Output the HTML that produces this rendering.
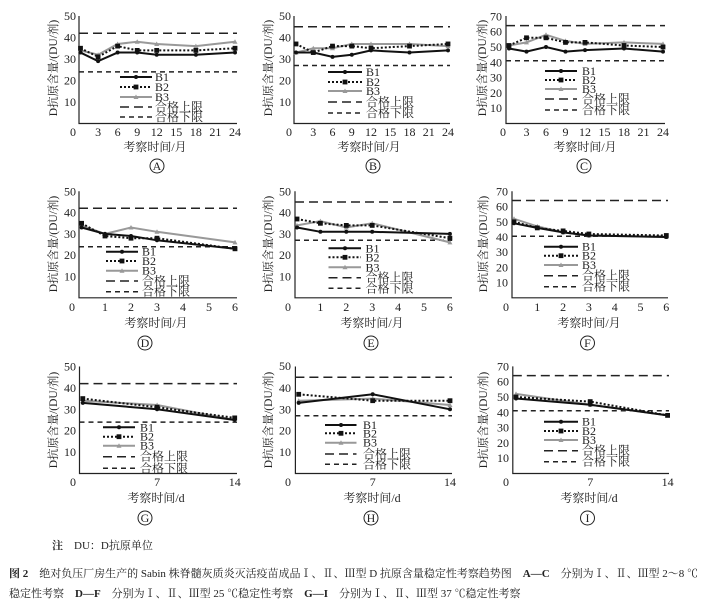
<!DOCTYPE html>
<html><head><meta charset="utf-8"><style>
body{margin:0;background:#fff}
svg{display:block}
text{font-family:"Liberation Serif","Noto Serif CJK SC",serif;fill:#222}
.t{font-size:12px}
.yl{font-size:11.5px;text-anchor:middle}
.m{text-anchor:middle}
.ax{stroke:#222;stroke-width:1.2;fill:none}
.b1{stroke:#111;stroke-width:2;fill:none;marker-start:url(#mc);marker-mid:url(#mc);marker-end:url(#mc)}
.b2{stroke:#111;stroke-width:2;stroke-dasharray:2 2;fill:none;marker-start:url(#ms);marker-mid:url(#ms);marker-end:url(#ms)}
.b3{stroke:#999;stroke-width:2;fill:none;marker-start:url(#mt);marker-mid:url(#mt);marker-end:url(#mt)}
polyline.lg{marker-start:none;marker-end:none}
.up{stroke:#222;stroke-width:1.5;stroke-dasharray:9 5;fill:none}
.lo{stroke:#222;stroke-width:1.5;stroke-dasharray:5 4;fill:none}
.cap{font-size:11px}
</style></head><body>
<svg width="704" height="607" viewBox="0 0 704 607" xmlns="http://www.w3.org/2000/svg">
<defs>
<marker id="mc" markerUnits="userSpaceOnUse" markerWidth="6" markerHeight="6" refX="3" refY="3"><circle cx="3" cy="3" r="2" fill="#111"/></marker>
<marker id="ms" markerUnits="userSpaceOnUse" markerWidth="6" markerHeight="6" refX="3" refY="3"><rect x="0.6" y="0.6" width="4.8" height="4.8" fill="#111"/></marker>
<marker id="mt" markerUnits="userSpaceOnUse" markerWidth="7" markerHeight="7" refX="3.5" refY="3.5"><path d="M3.5 1L6 5.5H1Z" fill="#999"/></marker>
</defs>

<!-- Panel A -->
<g>
<path class="ax" d="M79 16V123.5H237"/>
<g class="t" text-anchor="end"><text x="76" y="106">10</text><text x="76" y="84.5">20</text><text x="76" y="63">30</text><text x="76" y="41.5">40</text><text x="76" y="20">50</text></g>
<g class="t m"><text x="73" y="136">0</text><text x="98.1" y="136">3</text><text x="117.6" y="136">6</text><text x="137.2" y="136">9</text><text x="156.7" y="136">12</text><text x="176.3" y="136">15</text><text x="195.9" y="136">18</text><text x="215.4" y="136">21</text><text x="235" y="136">24</text></g>
<text class="yl" transform="translate(57,68) rotate(-90)">D抗原含量/(DU/剂)</text>
<text class="t m" x="155" y="151">考察时间/月</text>
<circle cx="157" cy="166" r="7" fill="none" stroke="#222"/><text class="t m" x="157" y="170">A</text>
<line class="up" x1="79" y1="33.2" x2="237" y2="33.2"/><line class="lo" x1="79" y1="71.9" x2="237" y2="71.9"/>
<polyline class="b3" points="80.5,50.4 98.1,54.7 117.6,43.95 137.2,41.8 156.7,43.95 195.9,46.1 235,41.8"/>
<polyline class="b2" points="80.5,48.25 98.1,56.85 117.6,46.1 137.2,50.4 156.7,50.4 195.9,50.4 235,48.25"/>
<polyline class="b1" points="80.5,52.55 98.1,61.15 117.6,52.55 137.2,52.55 156.7,54.7 195.9,54.7 235,52.55"/>
<polyline class="b1 lg" points="120,77 136,77 152,77"/><polyline class="b2 lg" points="120,87 136,87 152,87"/><polyline class="b3 lg" points="120,97 136,97 152,97"/>
<line class="up" x1="120" y1="107" x2="152" y2="107"/><line class="lo" x1="120" y1="117" x2="152" y2="117"/>
<g class="t"><text x="155" y="81">B1</text><text x="155" y="91">B2</text><text x="155" y="101">B3</text><text x="155" y="111">合格上限</text><text x="155" y="121">合格下限</text></g>
</g>

<!-- Panel B -->
<g>
<path class="ax" d="M294 16V123.5H450"/>
<g class="t" text-anchor="end"><text x="291" y="106">10</text><text x="291" y="84.5">20</text><text x="291" y="63">30</text><text x="291" y="41.5">40</text><text x="291" y="20">50</text></g>
<g class="t m"><text x="289" y="136">0</text><text x="313.3" y="136">3</text><text x="332.5" y="136">6</text><text x="351.8" y="136">9</text><text x="371" y="136">12</text><text x="390.3" y="136">15</text><text x="409.5" y="136">18</text><text x="428.8" y="136">21</text><text x="448" y="136">24</text></g>
<text class="yl" transform="translate(272,68) rotate(-90)">D抗原含量/(DU/剂)</text>
<text class="t m" x="369" y="151">考察时间/月</text>
<circle cx="373" cy="166" r="7" fill="none" stroke="#222"/><text class="t m" x="373" y="170">B</text>
<line class="up" x1="294" y1="26.75" x2="450" y2="26.75"/><line class="lo" x1="294" y1="65.45" x2="450" y2="65.45"/>
<polyline class="b3" points="296,52.55 313.3,48.25 332.5,48.25 351.8,43.95 371,43.95 409.5,43.95 448,46.1"/>
<polyline class="b2" points="296,43.95 313.3,52.55 332.5,46.1 351.8,46.1 371,48.25 409.5,46.1 448,43.95"/>
<polyline class="b1" points="296,52.55 313.3,52.55 332.5,56.85 351.8,54.7 371,50.4 409.5,52.55 448,50.4"/>
<polyline class="b1 lg" points="328,72 345,72 362,72"/><polyline class="b2 lg" points="328,82 345,82 362,82"/><polyline class="b3 lg" points="328,91 345,91 362,91"/>
<line class="up" x1="328" y1="102" x2="362" y2="102"/><line class="lo" x1="328" y1="113" x2="362" y2="113"/>
<g class="t"><text x="366" y="76">B1</text><text x="366" y="86">B2</text><text x="366" y="95">B3</text><text x="366" y="106">合格上限</text><text x="366" y="117">合格下限</text></g>
</g>

<!-- Panel C -->
<g>
<path class="ax" d="M506 16V123.5H665"/>
<g class="t" text-anchor="end"><text x="502" y="112">10</text><text x="502" y="97">20</text><text x="502" y="81.6">30</text><text x="502" y="66.3">40</text><text x="502" y="51">50</text><text x="502" y="35.7">60</text><text x="502" y="20.4">70</text></g>
<g class="t m"><text x="503" y="136">0</text><text x="526.5" y="136">3</text><text x="546" y="136">6</text><text x="565.5" y="136">9</text><text x="585" y="136">12</text><text x="604.5" y="136">15</text><text x="624" y="136">18</text><text x="643.5" y="136">21</text><text x="663" y="136">24</text></g>
<text class="yl" transform="translate(486,68) rotate(-90)">D抗原含量/(DU/剂)</text>
<text class="t m" x="585" y="151">考察时间/月</text>
<circle cx="584" cy="166" r="7" fill="none" stroke="#222"/><text class="t m" x="584" y="170">C</text>
<line class="up" x1="506" y1="25.6" x2="665" y2="25.6"/><line class="lo" x1="506" y1="60.8" x2="665" y2="60.8"/>
<polyline class="b3" points="509,45.5 526.5,42.4 546,34.8 565.5,40.9 585,43.9 624,42.4 663,43.9"/>
<polyline class="b2" points="509,45.5 526.5,37.8 546,37.8 565.5,42.4 585,42.4 624,45.5 663,47"/>
<polyline class="b1" points="509,48.5 526.5,51.6 546,47 565.5,51.6 585,50.1 624,48.5 663,51.6"/>
<polyline class="b1 lg" points="545,71 561,71 577,71"/><polyline class="b2 lg" points="545,80 561,80 577,80"/><polyline class="b3 lg" points="545,89 561,89 577,89"/>
<line class="up" x1="545" y1="99" x2="577" y2="99"/><line class="lo" x1="545" y1="110" x2="577" y2="110"/>
<g class="t"><text x="582" y="75">B1</text><text x="582" y="84">B2</text><text x="582" y="93">B3</text><text x="582" y="103">合格上限</text><text x="582" y="114">合格下限</text></g>
</g>

<!-- Panel D -->
<g>
<path class="ax" d="M79 191.3V297.8H237"/>
<g class="t" text-anchor="end"><text x="76" y="280.5">10</text><text x="76" y="259.2">20</text><text x="76" y="237.9">30</text><text x="76" y="216.6">40</text><text x="76" y="195.3">50</text></g>
<g class="t m"><text x="72" y="311">0</text><text x="105" y="311">1</text><text x="131" y="311">2</text><text x="157" y="311">3</text><text x="183" y="311">4</text><text x="209" y="311">5</text><text x="235" y="311">6</text></g>
<text class="yl" transform="translate(57,244) rotate(-90)">D抗原含量/(DU/剂)</text>
<text class="t m" x="156" y="327">考察时间/月</text>
<circle cx="145" cy="343" r="7" fill="none" stroke="#222"/><text class="t m" x="145" y="347">D</text>
<line class="up" x1="79" y1="208.3" x2="237" y2="208.3"/><line class="lo" x1="79" y1="246.7" x2="237" y2="246.7"/>
<polyline class="b3" points="81.6,225.4 105,233.9 131,227.5 157,231.8 235,242.4"/>
<polyline class="b2" points="81.6,223.3 105,236 131,238.2 157,238.2 235,248.8"/>
<polyline class="b1" points="81.6,227.5 105,233.9 131,236 157,240.3 235,248.8"/>
<polyline class="b1 lg" points="106,251.7 122,251.7 138,251.7"/><polyline class="b2 lg" points="106,261 122,261 138,261"/><polyline class="b3 lg" points="106,270.7 122,270.7 138,270.7"/>
<line class="up" x1="106" y1="281" x2="138" y2="281"/><line class="lo" x1="106" y1="291.7" x2="138" y2="291.7"/>
<g class="t"><text x="142" y="255.7">B1</text><text x="142" y="265">B2</text><text x="142" y="274.7">B3</text><text x="142" y="285">合格上限</text><text x="142" y="295.7">合格下限</text></g>
</g>

<!-- Panel E -->
<g>
<path class="ax" d="M295 191.3V297.8H452"/>
<g class="t" text-anchor="end"><text x="291" y="280.5">10</text><text x="291" y="259.2">20</text><text x="291" y="237.9">30</text><text x="291" y="216.6">40</text><text x="291" y="195.3">50</text></g>
<g class="t m"><text x="288" y="311">0</text><text x="320.4" y="311">1</text><text x="346.3" y="311">2</text><text x="372.2" y="311">3</text><text x="398.1" y="311">4</text><text x="424" y="311">5</text><text x="449.9" y="311">6</text></g>
<text class="yl" transform="translate(272,244) rotate(-90)">D抗原含量/(DU/剂)</text>
<text class="t m" x="372" y="327">考察时间/月</text>
<circle cx="371" cy="343" r="7" fill="none" stroke="#222"/><text class="t m" x="371" y="347">E</text>
<line class="up" x1="295" y1="202" x2="452" y2="202"/><line class="lo" x1="295" y1="240.3" x2="452" y2="240.3"/>
<polyline class="b3" points="297,225.4 320.4,221.1 346.3,227.5 372.2,223.3 449.9,242.4"/>
<polyline class="b2" points="297,219 320.4,223.3 346.3,225.4 372.2,225.4 449.9,238.2"/>
<polyline class="b1" points="297,227.5 320.4,231.8 346.3,231.8 372.2,231.8 449.9,233.9"/>
<polyline class="b1 lg" points="328.5,248.3 345,248.3 361,248.3"/><polyline class="b2 lg" points="328.5,257.3 345,257.3 361,257.3"/><polyline class="b3 lg" points="328.5,267.3 345,267.3 361,267.3"/>
<line class="up" x1="328.5" y1="277.7" x2="361" y2="277.7"/><line class="lo" x1="328.5" y1="288.3" x2="361" y2="288.3"/>
<g class="t"><text x="365.5" y="252.3">B1</text><text x="365.5" y="261.3">B2</text><text x="365.5" y="271.3">B3</text><text x="365.5" y="281.7">合格上限</text><text x="365.5" y="292.3">合格下限</text></g>
</g>

<!-- Panel F -->
<g>
<path class="ax" d="M512 191.3V297.8H668"/>
<g class="t" text-anchor="end"><text x="508" y="286.6">10</text><text x="508" y="271.4">20</text><text x="508" y="256.2">30</text><text x="508" y="241">40</text><text x="508" y="225.8">50</text><text x="508" y="210.6">60</text><text x="508" y="195.4">70</text></g>
<g class="t m"><text x="506" y="311">0</text><text x="537.3" y="311">1</text><text x="563.1" y="311">2</text><text x="588.9" y="311">3</text><text x="614.7" y="311">4</text><text x="640.5" y="311">5</text><text x="666.3" y="311">6</text></g>
<text class="yl" transform="translate(487,244) rotate(-90)">D抗原含量/(DU/剂)</text>
<text class="t m" x="589" y="327">考察时间/月</text>
<circle cx="587.5" cy="343" r="7" fill="none" stroke="#222"/><text class="t m" x="587.5" y="347">F</text>
<line class="up" x1="512" y1="200.5" x2="668" y2="200.5"/><line class="lo" x1="512" y1="236.2" x2="668" y2="236.2"/>
<polyline class="b3" points="514,218.8 537.3,226.4 563.1,232.4 588.9,235.5 666.3,237"/>
<polyline class="b2" points="514,221.8 537.3,227.9 563.1,230.9 588.9,234 666.3,235.5"/>
<polyline class="b1" points="514,223.3 537.3,227.9 563.1,232.4 588.9,235.5 666.3,237"/>
<polyline class="b1 lg" points="544,246.7 561,246.7 578,246.7"/><polyline class="b2 lg" points="544,255.7 561,255.7 578,255.7"/><polyline class="b3 lg" points="544,265 561,265 578,265"/>
<line class="up" x1="544" y1="275.7" x2="578" y2="275.7"/><line class="lo" x1="544" y1="286.7" x2="578" y2="286.7"/>
<g class="t"><text x="582" y="250.7">B1</text><text x="582" y="259.7">B2</text><text x="582" y="269">B3</text><text x="582" y="279.7">合格上限</text><text x="582" y="290.7">合格下限</text></g>
</g>

<!-- Panel G -->
<g>
<path class="ax" d="M79.5 366.5V473.5H237"/>
<g class="t" text-anchor="end"><text x="76" y="456.1">10</text><text x="76" y="434.7">20</text><text x="76" y="413.3">30</text><text x="76" y="391.9">40</text><text x="76" y="370.5">50</text></g>
<g class="t m"><text x="73" y="486">0</text><text x="157.1" y="486">7</text><text x="234.7" y="486">14</text></g>
<text class="yl" transform="translate(57,420) rotate(-90)">D抗原含量/(DU/剂)</text>
<text class="t m" x="156" y="502">考察时间/d</text>
<circle cx="145" cy="518" r="7" fill="none" stroke="#222"/><text class="t m" x="145" y="522">G</text>
<line class="up" x1="79.5" y1="383.6" x2="237" y2="383.6"/><line class="lo" x1="79.5" y1="422.1" x2="237" y2="422.1"/>
<polyline class="b3" points="82.8,400.7 157.1,405 234.7,420"/>
<polyline class="b2" points="82.8,398.6 157.1,407.2 234.7,417.9"/>
<polyline class="b1" points="82.8,402.9 157.1,409.3 234.7,420"/>
<polyline class="b1 lg" points="103,427.3 119,427.3 135,427.3"/><polyline class="b2 lg" points="103,436.7 119,436.7 135,436.7"/><polyline class="b3 lg" points="103,445.7 119,445.7 135,445.7"/>
<line class="up" x1="103" y1="456.7" x2="135" y2="456.7"/><line class="lo" x1="103" y1="468.3" x2="135" y2="468.3"/>
<g class="t"><text x="140" y="431.3">B1</text><text x="140" y="440.7">B2</text><text x="140" y="449.7">B3</text><text x="140" y="460.7">合格上限</text><text x="140" y="472.3">合格下限</text></g>
</g>

<!-- Panel H -->
<g>
<path class="ax" d="M295.4 366.5V473.5H452"/>
<g class="t" text-anchor="end"><text x="291" y="456.1">10</text><text x="291" y="434.7">20</text><text x="291" y="413.3">30</text><text x="291" y="391.9">40</text><text x="291" y="370">50</text></g>
<g class="t m"><text x="288" y="486">0</text><text x="372.7" y="486">7</text><text x="450" y="486">14</text></g>
<text class="yl" transform="translate(272,420) rotate(-90)">D抗原含量/(DU/剂)</text>
<text class="t m" x="372" y="502">考察时间/d</text>
<circle cx="371" cy="518" r="7" fill="none" stroke="#222"/><text class="t m" x="371" y="522">H</text>
<line class="up" x1="295.4" y1="377.2" x2="452" y2="377.2"/><line class="lo" x1="295.4" y1="415.7" x2="452" y2="415.7"/>
<polyline class="b3" points="298.7,400.7 372.7,398.6 450,405"/>
<polyline class="b2" points="298.7,394.3 372.7,400.7 450,400.7"/>
<polyline class="b1" points="298.7,402.9 372.7,394.3 450,409.3"/>
<polyline class="b1 lg" points="325,425 341,425 356.5,425"/><polyline class="b2 lg" points="325,433.3 341,433.3 356.5,433.3"/><polyline class="b3 lg" points="325,442.7 341,442.7 356.5,442.7"/>
<line class="up" x1="325" y1="454" x2="356.5" y2="454"/><line class="lo" x1="325" y1="464.3" x2="356.5" y2="464.3"/>
<g class="t"><text x="363" y="429">B1</text><text x="363" y="437.3">B2</text><text x="363" y="446.7">B3</text><text x="363" y="458">合格上限</text><text x="363" y="468.3">合格下限</text></g>
</g>

<!-- Panel I -->
<g>
<path class="ax" d="M512.8 366.4V473.5H669"/>
<g class="t" text-anchor="end"><text x="509" y="462.2">10</text><text x="509" y="446.9">20</text><text x="509" y="431.6">30</text><text x="509" y="416.3">40</text><text x="509" y="401">50</text><text x="509" y="385.7">60</text><text x="509" y="370.4">70</text></g>
<g class="t m"><text x="506" y="486">0</text><text x="590.2" y="486">7</text><text x="667.6" y="486">14</text></g>
<text class="yl" transform="translate(487,420) rotate(-90)">D抗原含量/(DU/剂)</text>
<text class="t m" x="589" y="502">考察时间/d</text>
<circle cx="587.5" cy="518" r="7" fill="none" stroke="#222"/><text class="t m" x="587.5" y="522">I</text>
<line class="up" x1="512.8" y1="375.6" x2="669" y2="375.6"/><line class="lo" x1="512.8" y1="410.8" x2="669" y2="410.8"/>
<polyline class="b3" points="516,393.9 590.2,404.7 667.6,415.4"/>
<polyline class="b2" points="516,397 590.2,401.6 667.6,415.4"/>
<polyline class="b1" points="516,398.5 590.2,404.7 667.6,415.4"/>
<polyline class="b1 lg" points="544,421.7 561,421.7 578,421.7"/><polyline class="b2 lg" points="544,431 561,431 578,431"/><polyline class="b3 lg" points="544,440 561,440 578,440"/>
<line class="up" x1="544" y1="450.7" x2="578" y2="450.7"/><line class="lo" x1="544" y1="461.7" x2="578" y2="461.7"/>
<g class="t"><text x="582" y="425.7">B1</text><text x="582" y="435">B2</text><text x="582" y="444">B3</text><text x="582" y="454.7">合格上限</text><text x="582" y="465.7">合格下限</text></g>
</g>

<!-- Caption -->
<text class="cap" x="52" y="549"><tspan font-weight="bold">注</tspan>　DU：D抗原单位</text>
<text class="cap" x="9" y="577" textLength="689" lengthAdjust="spacing"><tspan font-weight="bold">图 2</tspan>　绝对负压厂房生产的 Sabin 株脊髓灰质炎灭活疫苗成品Ⅰ、Ⅱ、Ⅲ型 D 抗原含量稳定性考察趋势图　<tspan font-weight="bold">A—C</tspan>　分别为Ⅰ、Ⅱ、Ⅲ型 2～8 ℃</text>
<text class="cap" x="9" y="597">稳定性考察　<tspan font-weight="bold">D—F</tspan>　分别为Ⅰ、Ⅱ、Ⅲ型 25 ℃稳定性考察　<tspan font-weight="bold">G—I</tspan>　分别为Ⅰ、Ⅱ、Ⅲ型 37 ℃稳定性考察</text>
</svg>
</body></html>
